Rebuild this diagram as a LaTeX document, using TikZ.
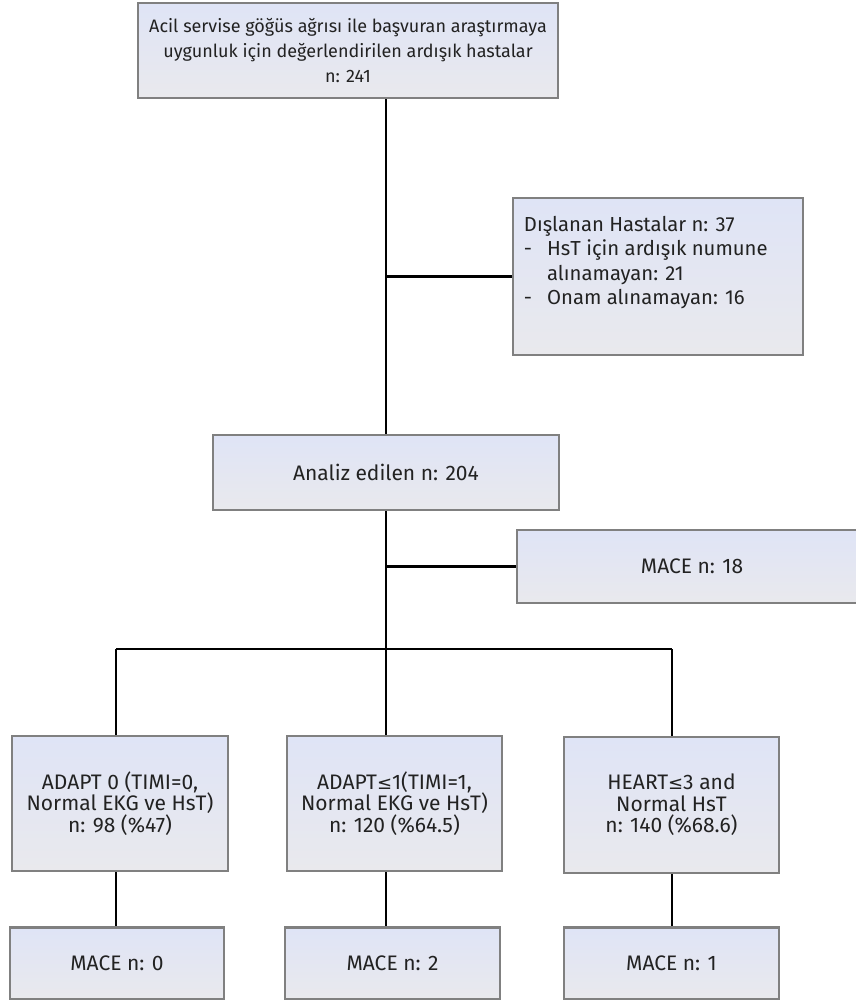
\documentclass[tikz,border=0pt]{standalone}
\usepackage{fontspec}
\setmainfont{Fira Sans}
\usepackage{tikz}
\usetikzlibrary{positioning}

\definecolor{boxtop}{HTML}{DFE4F6}
\definecolor{boxbottom}{HTML}{E9E9ED}
\definecolor{boxline}{HTML}{808080}
\definecolor{textgray}{HTML}{222222}
\newcommand{\leqsign}{{\fontspec{DejaVu Sans}\fontsize{18}{21}\selectfont≤}}

\begin{document}
\begin{tikzpicture}[x=1pt, y=-1pt, font=\fontsize{21}{21.5}\selectfont\color{textgray}]
	\tikzstyle{flowbox} = [rectangle, inner sep=0pt, align=center, text centered,
	draw=boxline, line width=2.5pt, top color=boxtop, bottom color=boxbottom]
	\tikzstyle{link} = [line width=2.5pt, black]
	\useasboundingbox (0,0) rectangle (855,1000);
	% main column
	\node (screened) [flowbox, minimum width=420pt, minimum height=95pt,
	font=\fontsize{18}{25}\selectfont\color{textgray}] at (348,50.5)
	{Acil servise göğüs ağrısı ile başvuran araştırmaya\\
	uygunluk için değerlendirilen ardışık hastalar\\ n: 241};
	\node (excluded) [flowbox, minimum width=290pt, minimum height=157pt] at (658,276.5) {};
	\node (excludedText) [anchor=north west, inner sep=0pt, align=left,
	font=\fontsize{20.3}{24.5}\selectfont\color{textgray}]
	at ([xshift=12pt, yshift=-17pt]excluded.north west)
	{\begin{tabular}{@{}l@{\hspace{15pt}}l@{}}
	\multicolumn{2}{@{}l}{Dışlanan Hastalar n: 37}\\
	- & HsT için ardışık numune\\
	  & alınamayan: 21\\
	- & Onam alınamayan: 16
	\end{tabular}};
	\node (analysed) [flowbox, minimum width=346pt, minimum height=75pt] at (386,472.5)
	{Analiz edilen n: 204};
	\node (maceAll) [flowbox, minimum width=350pt, minimum height=73pt] at (692,566.5)
	{MACE n: 18};
	% subgroups
	\node (adaptZero) [flowbox, minimum width=216pt, minimum height=135pt] at (120,803.5)
	{ADAPT 0 (TIMI=0,\\ Normal EKG ve HsT)\\ n: 98 (\%47)};
	\node (adaptOne) [flowbox, minimum width=215pt, minimum height=135pt] at (394.5,803.5)
	{ADAPT\leqsign1(TIMI=1,\\ Normal EKG ve HsT)\\ n: 120 (\%64.5)};
	\node (heart) [flowbox, minimum width=215pt, minimum height=136pt] at (671.5,805)
	{HEART\leqsign3 and\\ Normal HsT\\ n: 140 (\%68.6)};
	\node (maceZero) [flowbox, minimum width=214pt, minimum height=72pt] at (117,963.5)
	{MACE n: 0};
	\node (maceTwo) [flowbox, minimum width=215pt, minimum height=72pt] at (392.5,963.5)
	{MACE n: 2};
	\node (maceOne) [flowbox, minimum width=215pt, minimum height=72pt] at (671.5,963.5)
	{MACE n: 1};
	\coordinate (busLeft) at (116,649);
	\coordinate (busRight) at (672,649);
	% connectors
	\draw [link] (analysed.north |- screened.south) -- (analysed.north);
	\draw [link] (analysed.north |- excluded.west) -- (excluded.west);
	\draw [link] (analysed.south) -- (analysed.south |- busLeft);
	\draw [link] (analysed.south |- maceAll.west) -- (maceAll.west);
	\draw [link] (busLeft) -- (busRight);
	\draw [link] (busLeft) -- (busLeft |- adaptZero.north);
	\draw [link] (analysed.south |- busLeft) -- (analysed.south |- adaptOne.north);
	\draw [link] (busRight) -- (busRight |- heart.north);
	\draw [link] (busLeft |- adaptZero.south) -- (busLeft |- maceZero.north);
	\draw [link] (analysed.south |- adaptOne.south) -- (analysed.south |- maceTwo.north);
	\draw [link] (busRight |- heart.south) -- (busRight |- maceOne.north);
\end{tikzpicture}
\end{document}
